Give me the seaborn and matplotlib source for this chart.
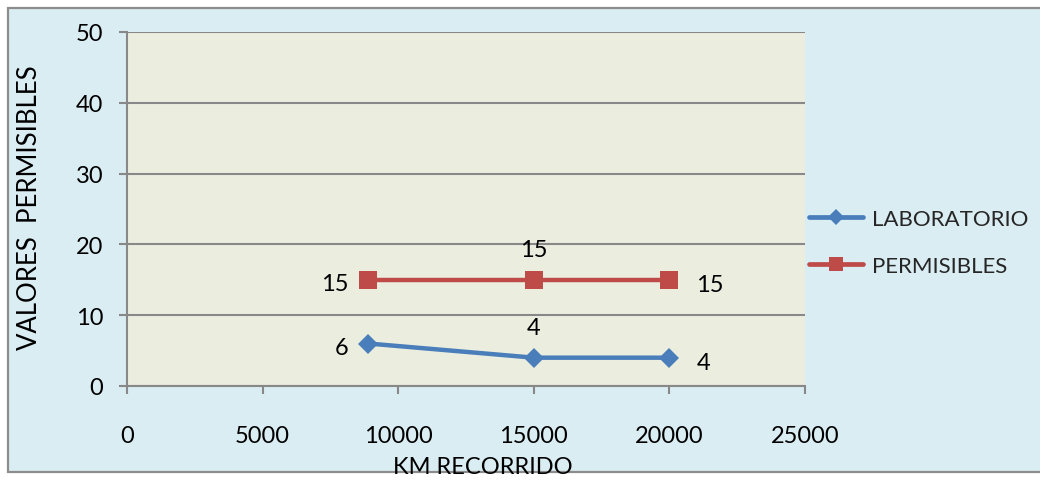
import matplotlib
matplotlib.use("Agg")
import matplotlib.pyplot as plt
from matplotlib.patches import Rectangle
import seaborn as sns
import pandas as pd

# Kilometres travelled and measured / allowed values
km = [8900, 15000, 20000]
laboratorio = [6, 4, 4]
permisibles = [15, 15, 15]
series_names = ["LABORATORIO", "PERMISIBLES"]
x_ticks = [0, 5000, 10000, 15000, 20000, 25000]
y_ticks = [0, 10, 20, 30, 40, 50]

df = pd.DataFrame({
    "km": km + km,
    "valor": laboratorio + permisibles,
    "serie": [series_names[0]] * len(km) + [series_names[1]] * len(km),
})

sns.set_theme(style="white")
plt.rcParams["font.family"] = ["Lato", "DejaVu Sans"]

W, H = 1040, 481
fig = plt.figure(figsize=(W / 100, H / 100), dpi=100, facecolor="white")

# Chart area background with grey border
fig.patches.append(Rectangle((8 / W, 1 - 473 / H), 1.1, (473 - 9) / H,
                             transform=fig.transFigure, facecolor="#DAEDF3",
                             edgecolor="#8C8C8C", linewidth=1.6, zorder=-10))

ax = fig.add_axes([127 / W, 1 - 387 / H, (805 - 127) / W, (387 - 33) / H])
ax.set_zorder(1)
ax.set_facecolor("#EBEEDF")

blue = "#4A7EBB"
red = "#BE4B48"
palette = {series_names[0]: blue, series_names[1]: red}
markers = {series_names[0]: "D", series_names[1]: "s"}

sns.lineplot(data=df, x="km", y="valor", hue="serie", style="serie",
             palette=palette, markers=markers, dashes=False,
             linewidth=3.2, markersize=13.5, markeredgewidth=0,
             ax=ax, zorder=3)

# Square markers are drawn at side = size, diamonds at diagonal = size*sqrt(2)
for line in ax.lines:
    if line.get_marker() == "D":
        line.set_markersize(9.8)

ax.set_xlim(0, 25000)
ax.set_ylim(0, 50)
ax.set_xticks(x_ticks)
ax.set_yticks(y_ticks)
ax.set_xticklabels([str(v) for v in x_ticks])
ax.set_yticklabels([str(v) for v in y_ticks])

grid_c = "#888888"
ax.yaxis.grid(True, color=grid_c, linewidth=1.5, zorder=1)
ax.xaxis.grid(False)
ax.set_axisbelow(True)
for side in ["top", "right"]:
    ax.spines[side].set_visible(False)
for side in ["left", "bottom"]:
    ax.spines[side].set_color(grid_c)
    ax.spines[side].set_linewidth(1.5)

ax.tick_params(axis="both", which="major", length=6, width=1.5, color=grid_c,
               labelsize=17, labelcolor="black", direction="out")
ax.tick_params(axis="x", pad=22, bottom=True)
ax.tick_params(axis="y", pad=11, left=True)

ax.set_xlabel("")
ax.set_ylabel("")
fig.text(483 / W, 1 - 468 / H, "KM RECORRIDO", ha="center", va="center",
         fontsize=17, color="black")
fig.text(30 / W, 1 - 208 / H, "VALORES  PERMISIBLES", ha="center",
         va="center", rotation=90, fontsize=18.5, color="black")

# Data labels: left, above, right
label_pos = [("right", -20, -4), ("center", 0, 30), ("left", 27, -5)]

def add_labels(values):
    for xv, yv, (ha, dx, dy) in zip(km, values, label_pos):
        ax.annotate(str(yv), (xv, yv), xytext=(dx, dy),
                    textcoords="offset pixels", ha=ha, va="center",
                    fontsize=17, color="black", zorder=5)

add_labels(laboratorio)
add_labels(permisibles)

sns.move_legend(ax, loc="upper left", bbox_to_anchor=(809 / W, 1 - 210 / H),
                bbox_transform=fig.transFigure, title=None, frameon=False,
                fontsize=16, handlelength=2.45, handletextpad=0.4,
                labelspacing=1.2, borderpad=0, borderaxespad=0)

# Legend keys: thick line, slightly smaller markers
leg = ax.get_legend()
for h in leg.legend_handles:
    h.set_linewidth(3.4)
    h.set_markeredgewidth(0)
    if h.get_marker() == "D":
        h.set_markersize(8.0)
    else:
        h.set_markersize(10.5)

fig.savefig("out.png", dpi=100, facecolor=fig.get_facecolor())
